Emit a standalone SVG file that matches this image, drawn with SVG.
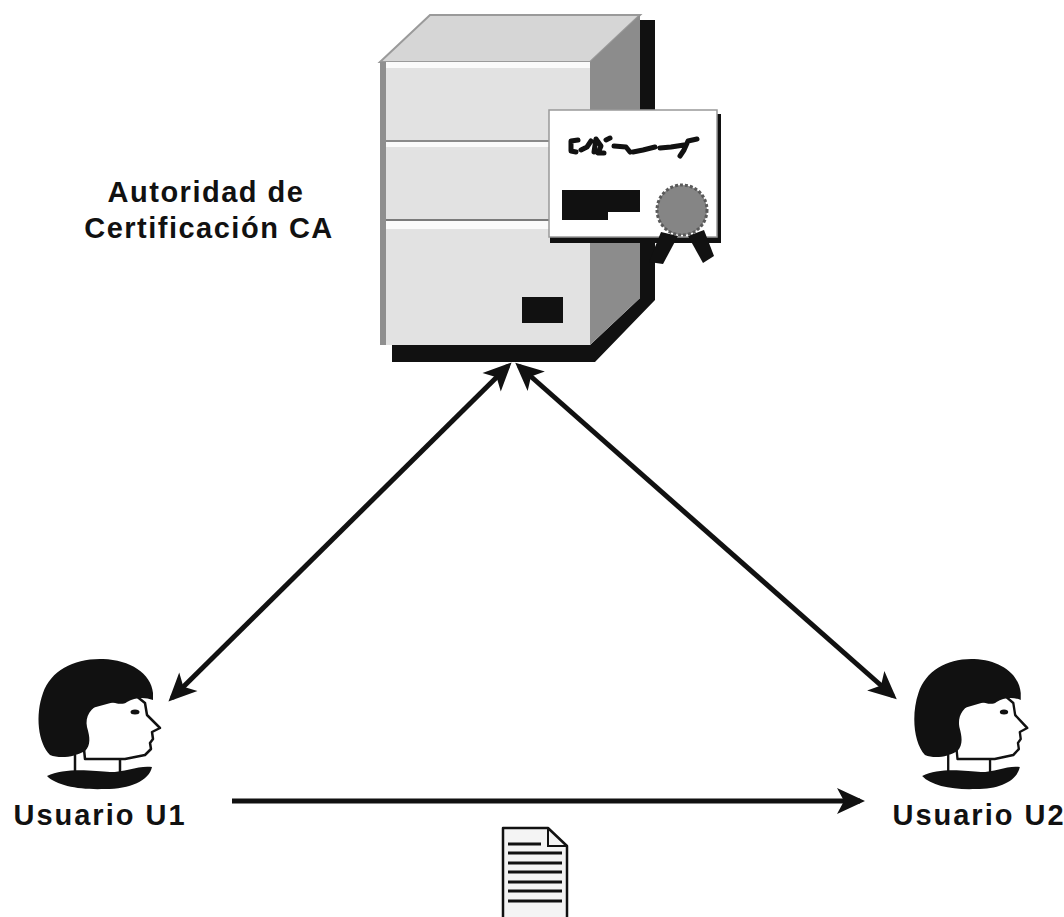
<svg xmlns="http://www.w3.org/2000/svg" width="1064" height="917" viewBox="0 0 1064 917">
  <style>
    .label { font-family: "Liberation Sans", Arial, sans-serif; font-weight: bold; font-size: 29px; fill: #111; }
    .link { stroke: #111; stroke-width: 5; fill: none; }
  </style>
  <defs>
    <marker id="head" markerUnits="userSpaceOnUse" viewBox="-26 -15 32 30" refX="0" refY="0" markerWidth="32" markerHeight="30" orient="auto-start-reverse">
      <path d="M5,0 L-23,-13 L-16,0 L-23,13 Z" fill="#111"/>
    </marker>
    <!-- profile head, facing right -->
    <g id="person">
      <path d="M45,55 L100,40 L110,48 L112,60 L125,73 L117,77 L118,84 L115,88 L116,94 L110,100 L90,104 L50,104 Z" fill="#fff" stroke="#111" stroke-width="2.5" stroke-linejoin="round"/>
      <path d="M15,100 C3,88 0,60 8,38 C16,15 40,3 68,4 C95,5 116,18 118,38 L118,45 C110,42 100,42 92,47 C85,52 78,45 68,48 C55,52 50,62 52,72 C55,82 56,90 50,96 C40,102 25,104 15,100 Z" fill="#111"/>
      <ellipse cx="100" cy="57" rx="4.5" ry="2.5" fill="#111"/>
      <line x1="40" y1="100" x2="40" y2="118" stroke="#111" stroke-width="2.5"/>
      <line x1="85" y1="103" x2="85" y2="117" stroke="#111" stroke-width="2.5"/>
      <path d="M12,121 C30,112 60,116 75,117 C90,117 105,110 117,112 C114,126 95,134 70,134 C45,135 22,131 12,121 Z" fill="#111"/>
    </g>
  </defs>

  <rect width="1064" height="917" fill="#fff"/>

  <!-- CA server with certificate -->
  <g id="ca-server">
    <polygon points="640,20 655,20 655,300 595,362 392,362 392,345 590,345 640,298" fill="#111"/>
    <polygon points="380,62 430,15 640,15 590,62" fill="#d6d6d6" stroke="#9a9a9a" stroke-width="2"/>
    <polygon points="590,62 640,15 640,298 590,345" fill="#8c8c8c"/>
    <rect x="380" y="62" width="210" height="283" fill="#e2e2e2"/>
    <rect x="380" y="62" width="6" height="283" fill="#8f8f8f"/>
    <rect x="386" y="62" width="204" height="6" fill="#fafafa"/>
    <rect x="386" y="140" width="204" height="2" fill="#8a8a8a"/>
    <rect x="386" y="142" width="204" height="5" fill="#fafafa"/>
    <rect x="386" y="219" width="204" height="2" fill="#7a7a7a"/>
    <rect x="386" y="221" width="204" height="8" fill="#fafafa"/>
    <rect x="522" y="297" width="41" height="26" fill="#111"/>

    <!-- certificate -->
    <g id="certificate">
      <rect x="550" y="114" width="171" height="129" fill="#111"/>
      <rect x="549" y="110" width="168" height="127" fill="#fff" stroke="#999" stroke-width="1.5"/>
      <path d="M576,152 L571,151 L571,141 L578,140 M581,150 L587,147 L591,141 M594,152 L596,139 L601,146 L598,153 L604,153 M606,140 L610,138 M614,146 L626,147 L630,152 M633,152 L643,150 L655,147 M660,148 L671,147 L684,145 M680,156 L684,150 L688,141 L697,139" stroke="#111" stroke-width="5" fill="none" stroke-linecap="round" stroke-linejoin="round"/>
      <polygon points="562,190 640,190 640,212 608,212 608,220 562,220" fill="#111"/>
      <polygon points="661,232 678,236 663,264 649,262" fill="#111"/>
      <polygon points="688,236 704,230 714,256 703,263" fill="#111"/>
      <circle cx="682" cy="210" r="25" fill="#858585" stroke="#5a5a5a" stroke-width="3" stroke-dasharray="3 2"/>
    </g>
  </g>

  <!-- connectors -->
  <g id="connectors">
    <line class="link" x1="172" y1="698" x2="508" y2="366" marker-start="url(#head)" marker-end="url(#head)"/>
    <line class="link" x1="519" y1="366" x2="893" y2="696" marker-start="url(#head)" marker-end="url(#head)"/>
    <line class="link" x1="232" y1="801" x2="860" y2="801" marker-end="url(#head)"/>
  </g>

  <g id="ca-label">
    <text class="label" x="206" y="202" text-anchor="middle" letter-spacing="1.5">Autoridad de</text>
    <text class="label" x="209" y="238" text-anchor="middle" letter-spacing="1.5">Certificación CA</text>
  </g>

  <g id="user-u1">
    <use href="#person" transform="translate(35,655)"/>
    <text class="label" x="100" y="825" text-anchor="middle" letter-spacing="2">Usuario U1</text>
  </g>

  <g id="user-u2">
    <use href="#person" transform="translate(911,655) scale(0.93,1)"/>
    <text class="label" x="979" y="825" text-anchor="middle" letter-spacing="2">Usuario U2</text>
  </g>

  <!-- signed document -->
  <g id="document">
    <path d="M503,828 L548,828 L567,846 L567,920 L503,920 Z" fill="#f4f4f4" stroke="#111" stroke-width="2.5" stroke-linejoin="round"/>
    <path d="M548,828 L548,846 L567,846" fill="none" stroke="#111" stroke-width="2"/>
    <g stroke="#111" stroke-width="3">
      <line x1="508" y1="844" x2="541" y2="844"/>
      <line x1="508" y1="853" x2="562" y2="853"/>
      <line x1="508" y1="863" x2="562" y2="863"/>
      <line x1="508" y1="872" x2="562" y2="872"/>
      <line x1="508" y1="882" x2="562" y2="882"/>
      <line x1="508" y1="891" x2="562" y2="891"/>
      <line x1="508" y1="901" x2="562" y2="901"/>
    </g>
  </g>
</svg>
